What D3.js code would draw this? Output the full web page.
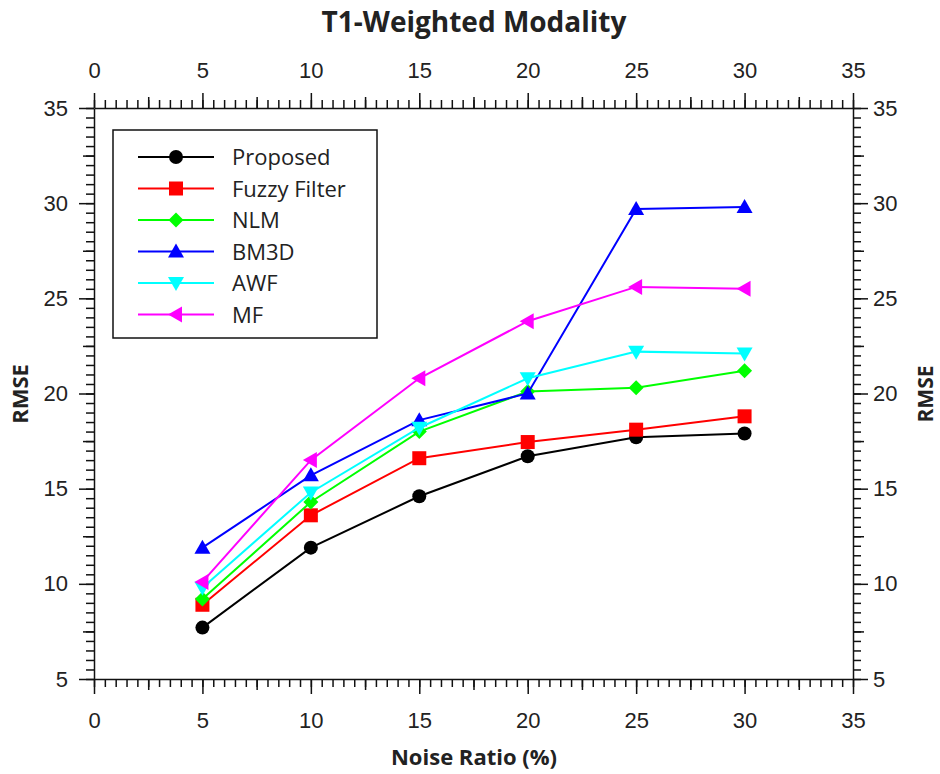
<!DOCTYPE html>
<html>
<head>
<meta charset="utf-8">
<script src="https://cdn.jsdelivr.net/npm/d3@7"></script>
<style>
  body { margin: 0; background: #fff; }
  svg { font-family: "Open Sans", "Noto Sans", sans-serif; }
  .tick text { fill: #222; font-size: 22px; }
  .domain, .tick line { stroke: #111; stroke-width: 1.5; }
</style>
</head>
<body>
<script>
/*
DATA
*/
const noise = [5, 10, 15, 20, 25, 30]
const proposed = [7.7, 11.9, 14.6, 16.7, 17.7, 17.9]
const fuzzy = [8.9, 13.6, 16.6, 17.45, 18.1, 18.8]
const nlm = [9.2, 14.3, 18.0, 20.1, 20.3, 21.2]
const bm3d = [11.9, 15.7, 18.6, 20.0, 29.7, 29.8]
const awf = [9.8, 14.8, 18.2, 20.8, 22.2, 22.1]
const mf = [10.1, 16.5, 20.8, 23.8, 25.6, 25.5]

const xTicks = [0, 5, 10, 15, 20, 25, 30, 35]
const yTicks = [5, 10, 15, 20, 25, 30, 35]

const seriesNames = ["Proposed", "Fuzzy Filter", "NLM", "BM3D", "AWF", "MF"]
const seriesValues = [proposed, fuzzy, nlm, bm3d, awf, mf]
const seriesColors = ["#000000", "#ff0000", "#00ff00", "#0000ff", "#00ffff", "#ff00ff"]
const seriesShapes = ["circle", "square", "diamond", "triUp", "triDown", "triLeft"]

/*
SET UP
*/
const w = 940
const h = 774
const m = ({top: 108, right: 87, bottom: 95, left: 94})

const svg = d3.select("body")
  .append("svg")
  .attr("width", w)
  .attr("height", h);

const x = d3.scaleLinear()
  .domain([0, 35])
  .range([m.left, w - m.right]);

const y = d3.scaleLinear()
  .domain([5, 35])
  .range([h - m.bottom, m.top]);

// marker paths centred on 0,0
function marker(shape) {
  if (shape === "circle") return "M7,0A7,7 0 1,1 -7,0A7,7 0 1,1 7,0Z";
  if (shape === "square") return "M-7,-7H7V7H-7Z";
  if (shape === "diamond") return "M0,-7.5L7.5,0L0,7.5L-7.5,0Z";
  if (shape === "triUp") return "M0,-8L8,6L-8,6Z";
  if (shape === "triDown") return "M0,8L8,-6L-8,-6Z";
  if (shape === "triLeft") return "M-8,0L6,-8L6,8Z";
}

/*
AXES
*/
const minor = d3.range(0, 35.01, 0.5)
const minorY = d3.range(5, 35.01, 0.5)
const mid = d3.range(2.5, 35, 5)
const midY = d3.range(7.5, 35, 5)

function drawAxis(axisFn, scale, pos, values, len, labels, pad) {
  const g = svg.append("g")
    .attr("transform", pos)
    .call(axisFn(scale)
      .tickValues(values)
      .tickSize(len)
      .tickSizeOuter(0)
      .tickPadding(pad || 8)
      .tickFormat(labels ? d3.format("d") : ""));
  if (!labels) g.select(".domain").remove();
  return g;
}

// bottom
drawAxis(d3.axisBottom, x, `translate(0,${h - m.bottom})`, minor, 8, false);
drawAxis(d3.axisBottom, x, `translate(0,${h - m.bottom})`, mid, 11, false);
drawAxis(d3.axisBottom, x, `translate(0,${h - m.bottom})`, xTicks, 15, true, 18);
// top
drawAxis(d3.axisTop, x, `translate(0,${m.top})`, minor, 8, false);
drawAxis(d3.axisTop, x, `translate(0,${m.top})`, mid, 11, false);
drawAxis(d3.axisTop, x, `translate(0,${m.top})`, xTicks, 15, true, 15);
// left
drawAxis(d3.axisLeft, y, `translate(${m.left},0)`, minorY, 8, false);
drawAxis(d3.axisLeft, y, `translate(${m.left},0)`, midY, 11, false);
drawAxis(d3.axisLeft, y, `translate(${m.left},0)`, yTicks, 15, true, 11);
// right
drawAxis(d3.axisRight, y, `translate(${w - m.right},0)`, minorY, 8, false);
drawAxis(d3.axisRight, y, `translate(${w - m.right},0)`, midY, 11, false);
drawAxis(d3.axisRight, y, `translate(${w - m.right},0)`, yTicks, 15, true, 5);

/*
TITLES
*/
svg.append("text")
  .attr("x", 474)
  .attr("y", 32)
  .attr("text-anchor", "middle")
  .attr("font-size", 28)
  .attr("font-weight", "bold")
  .attr("fill", "#222")
  .text("T1-Weighted Modality");

svg.append("text")
  .attr("x", 474)
  .attr("y", 765)
  .attr("text-anchor", "middle")
  .attr("font-size", 22)
  .attr("font-weight", "bold")
  .attr("fill", "#222")
  .text("Noise Ratio (%)");

svg.append("text")
  .attr("transform", "translate(28,394) rotate(-90)")
  .attr("text-anchor", "middle")
  .attr("font-size", 22)
  .attr("font-weight", "bold")
  .attr("fill", "#222")
  .text("RMSE");

svg.append("text")
  .attr("transform", "translate(933,394) rotate(-90)")
  .attr("text-anchor", "middle")
  .attr("font-size", 21)
  .attr("font-weight", "bold")
  .attr("fill", "#222")
  .text("RMSE");

/*
LINES + MARKERS
*/
const line = d3.line()
  .x((d, i) => x(noise[i]))
  .y((d) => y(d));

seriesValues.forEach((vals, k) => {
  svg.append("path")
    .datum(vals)
    .attr("d", line)
    .attr("fill", "none")
    .attr("stroke", seriesColors[k])
    .attr("stroke-width", 2);

  svg.selectAll(".pt" + k)
    .data(vals)
    .join("path")
    .attr("class", "pt" + k)
    .attr("d", marker(seriesShapes[k]))
    .attr("transform", (d, i) => `translate(${x(noise[i])},${y(d)})`)
    .attr("fill", seriesColors[k]);
});

/*
LEGEND
*/
const legend = svg.append("g")
  .attr("transform", "translate(113,130)");

legend.append("rect")
  .attr("width", 264)
  .attr("height", 208)
  .attr("fill", "#fff")
  .attr("stroke", "#111")
  .attr("stroke-width", 1.5);

seriesNames.forEach((name, k) => {
  const row = legend.append("g")
    .attr("transform", `translate(0,${27 + k * 31.5})`);
  row.append("line")
    .attr("x1", 25)
    .attr("x2", 101)
    .attr("stroke", seriesColors[k])
    .attr("stroke-width", 2);
  row.append("path")
    .attr("d", marker(seriesShapes[k]))
    .attr("transform", "translate(63,0)")
    .attr("fill", seriesColors[k]);
  row.append("text")
    .attr("x", 119)
    .attr("y", 8)
    .attr("font-size", 22)
    .attr("fill", "#222")
    .text(name);
});
</script>
</body>
</html>
